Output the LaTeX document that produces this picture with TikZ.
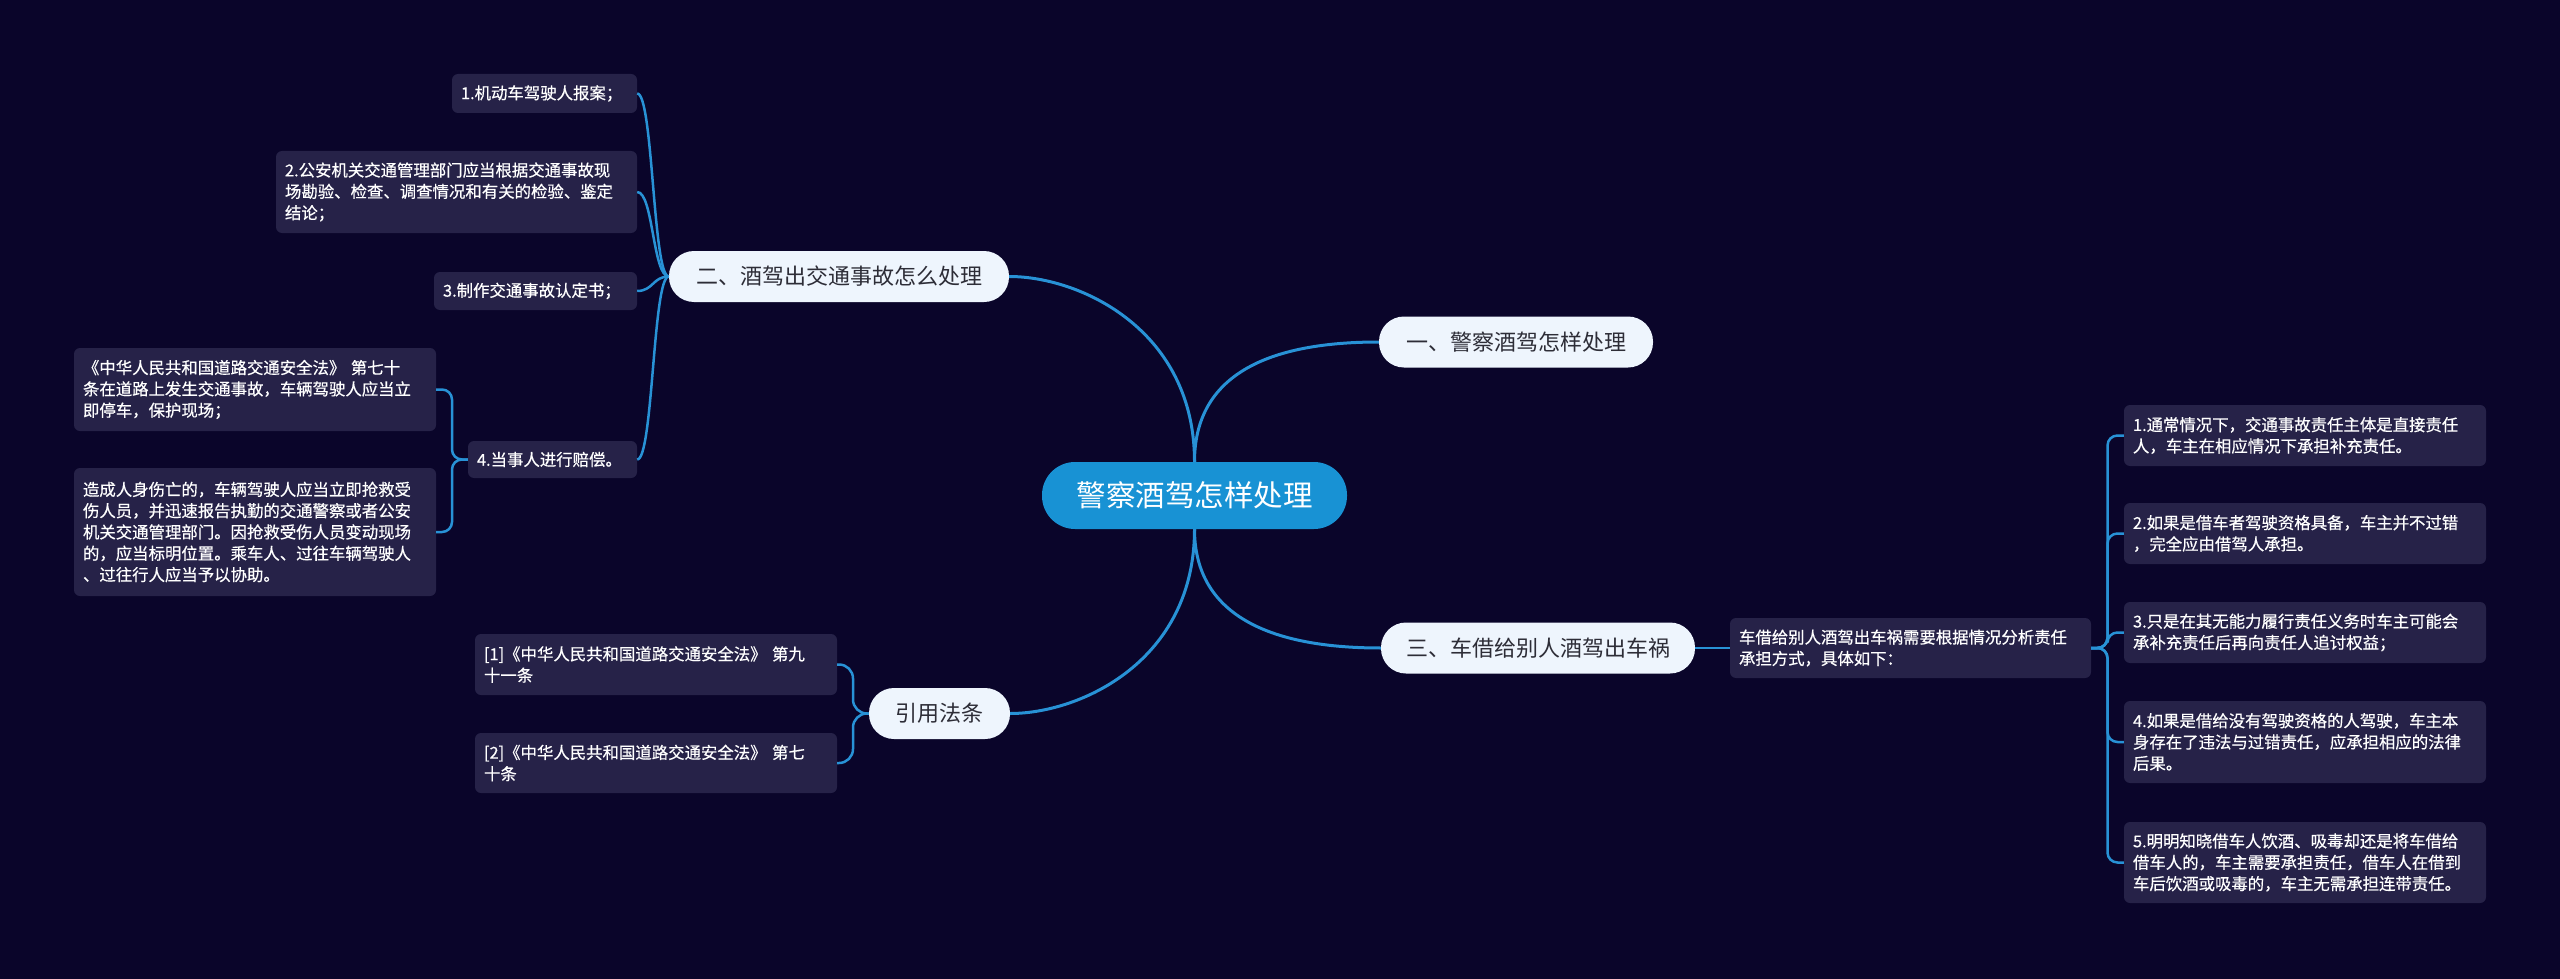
\documentclass[tikz,border=0pt]{standalone}
\usepackage{fontspec}
\setmainfont{Noto Sans CJK SC}
\newfontfamily\leaffont[FakeBold=0.5]{Noto Sans CJK SC}
\definecolor{bg}{RGB}{10,5,42}
\definecolor{leafc}{RGB}{38,34,72}
\definecolor{wire}{RGB}{40,146,214}
\definecolor{topic}{RGB}{24,146,212}
\definecolor{subc}{RGB}{238,245,253}
\definecolor{subtext}{RGB}{45,45,55}
\begin{document}
\begin{tikzpicture}[x=1pt,y=-1pt,
  central/.style={rounded corners=33pt, fill=topic, text=white, font=\fontsize{29.5}{34}\selectfont, minimum width=305pt, minimum height=67pt, inner sep=0pt},
  branch/.style={rounded corners=25pt, fill=subc, text=subtext, font=\fontsize{22}{26}\selectfont, minimum height=51pt, inner sep=0pt},
  leafbox/.style={rounded corners=6pt, fill=leafc, text=white, font=\leaffont\fontsize{16.4}{21.3}\selectfont, inner xsep=9pt, inner ysep=0pt, align=left},
  mainwire/.style={draw=wire, line width=3pt},
  subwire/.style={draw=wire, line width=2.5pt},
]
\fill[bg] (0,0) rectangle (2560,979);
\useasboundingbox (0,0) rectangle (2560,979);

% central and branches
\node[central] (c) at (1194.5,495.5) {警察酒驾怎样处理};
\node[branch, minimum width=274pt] (b1) at (1516,342) {一、警察酒驾怎样处理};
\node[branch, minimum width=340pt] (b2) at (839,276.5) {二、酒驾出交通事故怎么处理};
\node[branch, minimum width=314pt] (b3) at (1538,648) {三、车借给别人酒驾出车祸};
\node[branch, minimum width=141pt] (b4) at (939.5,713.5) {引用法条};

% branch 2 leaves
\node[leafbox, text width=167pt, minimum height=39pt] (l1) at (544.5,93.5) {1.机动车驾驶人报案；};
\node[leafbox, text width=343pt, minimum height=82pt] (l2) at (456.5,192) {2.公安机关交通管理部门应当根据交通事故现\\场勘验、检查、调查情况和有关的检验、鉴定\\结论；};
\node[leafbox, text width=185pt, minimum height=38pt] (l3) at (535.5,291) {3.制作交通事故认定书；};
\node[leafbox, text width=151pt, minimum height=37pt] (l4) at (552.5,459.5) {4.当事人进行赔偿。};
\node[leafbox, text width=344pt, minimum height=83pt] (l41) at (255,389.5) {《中华人民共和国道路交通安全法》 第七十\\条在道路上发生交通事故，车辆驾驶人应当立\\即停车，保护现场；};
\node[leafbox, text width=344pt, minimum height=128pt] (l42) at (255,532) {造成人身伤亡的，车辆驾驶人应当立即抢救受\\伤人员，并迅速报告执勤的交通警察或者公安\\机关交通管理部门。因抢救受伤人员变动现场\\的，应当标明位置。乘车人、过往车辆驾驶人\\、过往行人应当予以协助。};

% branch 4 leaves
\node[leafbox, text width=344pt, minimum height=61pt] (r1) at (656,664.5) {[1]《中华人民共和国道路交通安全法》 第九\\十一条};
\node[leafbox, text width=344pt, minimum height=60pt] (r2) at (656,763) {[2]《中华人民共和国道路交通安全法》 第七\\十条};

% branch 3 leaves
\node[leafbox, text width=343pt, minimum height=60pt] (m) at (1910.5,648) {车借给别人酒驾出车祸需要根据情况分析责任\\承担方式，具体如下：};
\node[leafbox, text width=344pt, minimum height=61pt] (q1) at (2305,435.5) {1.通常情况下，交通事故责任主体是直接责任\\人，车主在相应情况下承担补充责任。};
\node[leafbox, text width=344pt, minimum height=61pt] (q2) at (2305,533.5) {2.如果是借车者驾驶资格具备，车主并不过错\\，完全应由借驾人承担。};
\node[leafbox, text width=344pt, minimum height=61pt] (q3) at (2305,632.5) {3.只是在其无能力履行责任义务时车主可能会\\承补充责任后再向责任人追讨权益；};
\node[leafbox, text width=344pt, minimum height=82pt] (q4) at (2305,742) {4.如果是借给没有驾驶资格的人驾驶，车主本\\身存在了违法与过错责任，应承担相应的法律\\后果。};
\node[leafbox, text width=344pt, minimum height=81pt] (q5) at (2305,862.5) {5.明明知晓借车人饮酒、吸毒却还是将车借给\\借车人的，车主需要承担责任，借车人在借到\\车后饮酒或吸毒的，车主无需承担连带责任。};

% junctions
\coordinate (j4) at (452,459.5);
\coordinate (jb4) at (853,713.5);
\coordinate (jm) at (2107.5,648);

% main connectors
\draw[mainwire] (c.north) .. controls +(0,-82) and +(-119,0) .. (b1.west);
\draw[mainwire] (c.north) .. controls +(0,-132) and +(71,0) .. (b2.east);
\draw[mainwire] (c.south) .. controls +(0,80) and +(-121,0) .. (b3.west);
\draw[mainwire] (c.south) .. controls +(0,132) and +(70,0) .. (b4.east);

% branch 2 connectors
\foreach \t in {l1,l2,l3,l4}
  \draw[subwire] (b2.west) .. controls +(-16,0) and +(16,0) .. (\t.east);
% leaf 4 connectors
\foreach \t in {l41,l42}
  \draw[subwire, rounded corners=10pt] (l4.west) -- (j4) |- (\t.east);
% branch 4 connectors
\foreach \t in {r1,r2}
  \draw[subwire, rounded corners=14pt] (b4.west) -- (jb4) |- (\t.east);
% branch 3 connectors
\draw[subwire] (b3.east) -- (m.west);
\foreach \t in {q1,q2,q3,q4,q5}
  \draw[subwire, rounded corners=10pt] (m.east) -- (jm) |- (\t.west);
\end{tikzpicture}
\end{document}
